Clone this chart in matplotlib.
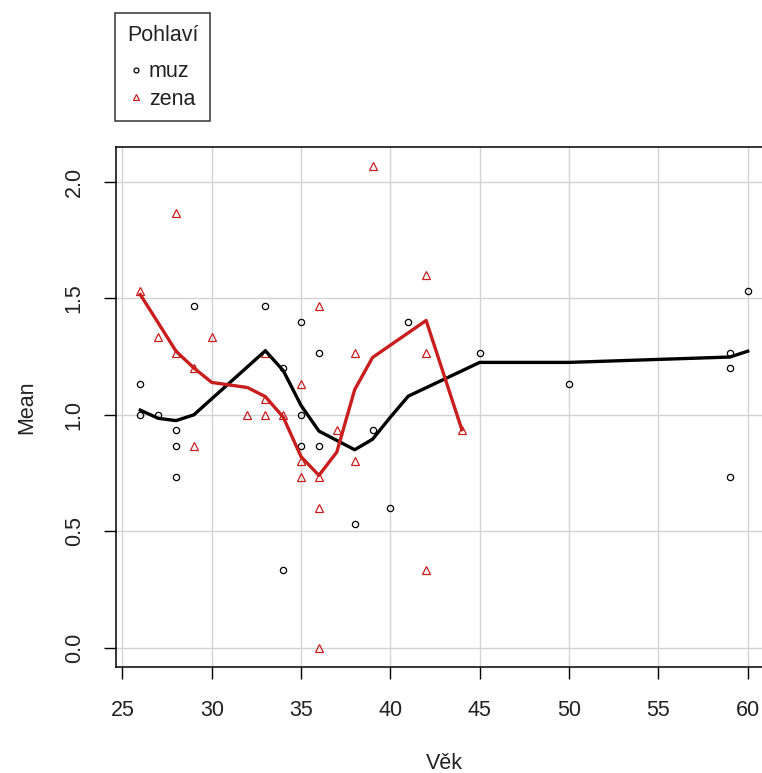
import matplotlib
matplotlib.use("Agg")
import matplotlib.pyplot as plt
from matplotlib.lines import Line2D

plt.rcParams['font.family'] = ['Liberation Sans', 'DejaVu Sans']

FONTSIZE = 15.5
RED = '#c81e1e'

# muz points (age, mean)
muz_age = [26, 26, 27, 28, 28, 28, 29, 33, 34, 34, 35, 35, 35, 36, 36,
           38, 39, 40, 41, 45, 50, 59, 59, 59, 60]
muz_mean = [1.133, 1.0, 1.0, 0.933, 0.867, 0.733, 1.467, 1.467, 1.2, 0.333,
            1.4, 1.0, 0.867, 1.267, 0.867, 0.533, 0.933, 0.6, 1.4, 1.267,
            1.133, 1.267, 1.2, 0.733, 1.533]

# zena points
zena_age = [26, 27, 28, 28, 29, 29, 30, 32, 33, 33, 33, 34, 35, 35, 35,
            36, 36, 36, 36, 37, 38, 38, 39, 42, 42, 42, 44]
zena_mean = [1.533, 1.333, 1.867, 1.267, 1.2, 0.867, 1.333, 1.0, 1.267,
             1.067, 1.0, 1.0, 1.133, 0.8, 0.733, 1.467, 0.733, 0.6, 0.0,
             0.933, 1.267, 0.8, 2.067, 1.6, 1.267, 0.333, 0.933]

# smoothed curves
muz_fit_age = [26, 27, 28, 29, 33, 34, 35, 36, 38, 39, 40, 41, 45, 50, 59, 60]
muz_fit = [1.02, 0.985, 0.975, 1.0, 1.275, 1.19, 1.04, 0.93, 0.85, 0.895,
           0.99, 1.08, 1.225, 1.225, 1.248, 1.273]

zena_fit_age = [26, 27, 28, 29, 30, 32, 33, 34, 35, 36, 37, 38, 39, 42, 44]
zena_fit = [1.516, 1.395, 1.273, 1.201, 1.139, 1.117, 1.078, 0.99, 0.82,
            0.74, 0.84, 1.108, 1.246, 1.405, 0.936]

x_ticks = [25, 30, 35, 40, 45, 50, 55, 60]
y_ticks = [0.0, 0.5, 1.0, 1.5, 2.0]

W, H = 762, 773
fig = plt.figure(figsize=(W / 100, H / 100), dpi=100)
ax = fig.add_axes([116 / W, 106 / H, 656 / W, 520 / H])

# R style 4% padding on both axes
def padded(vals):
    lo, hi = min(vals), max(vals)
    d = (hi - lo) * 0.04
    return lo - d, hi + d

ax.set_xlim(*padded(muz_age + zena_age))
ax.set_ylim(*padded(muz_mean + zena_mean))

ax.set_xticks(x_ticks)
ax.set_yticks(y_ticks)
ax.set_yticklabels([f"{v:.1f}" for v in y_ticks], rotation=90, va='center')
ax.grid(True, color='#d3d3d3', linewidth=1)
ax.set_axisbelow(True)

ax.tick_params(direction='out', length=8.5, width=1, labelsize=FONTSIZE,
               colors='black', labelcolor='#222222')
ax.tick_params(axis='x', pad=15)
ax.tick_params(axis='y', pad=14)
for s in ax.spines.values():
    s.set_linewidth(1.1)

ax.plot(muz_age, muz_mean, linestyle='none', marker='o', markersize=4.5,
        markerfacecolor='none', markeredgecolor='black', markeredgewidth=0.9)
ax.plot(zena_age, zena_mean, linestyle='none', marker='^', markersize=5.5,
        markerfacecolor='none', markeredgecolor=RED, markeredgewidth=0.9)

ax.plot(muz_fit_age, muz_fit, color='black', linewidth=2.4)
ax.plot(zena_fit_age, zena_fit, color=RED, linewidth=2.4)

ax.set_xlabel('Věk', fontsize=FONTSIZE, color='#222222', labelpad=23)
ax.set_ylabel('Mean', fontsize=FONTSIZE, color='#222222', labelpad=19)

handles = [
    Line2D([], [], linestyle='none', marker='o', markersize=3.5,
           markerfacecolor='none', markeredgecolor='black', markeredgewidth=0.9),
    Line2D([], [], linestyle='none', marker='^', markersize=4.5,
           markerfacecolor='none', markeredgecolor=RED, markeredgewidth=0.9),
]
leg = fig.legend(handles, ['muz', 'zena'], title='Pohlaví',
                 loc='upper left', bbox_to_anchor=(115 / W, 1 - 13 / H),
                 bbox_transform=fig.transFigure, fontsize=FONTSIZE,
                 title_fontsize=FONTSIZE, frameon=True, fancybox=False,
                 handlelength=0.6, handletextpad=0.3, labelspacing=0.3,
                 borderpad=0.55, borderaxespad=0)
# a bit more room between the title and the entries, like R does
leg._legend_box.sep = 11
leg.get_frame().set_edgecolor('black')
leg.get_frame().set_linewidth(1.1)
for t in leg.get_texts():
    t.set_color('#222222')
leg.get_title().set_color('#222222')

fig.savefig('out.png', dpi=100)
